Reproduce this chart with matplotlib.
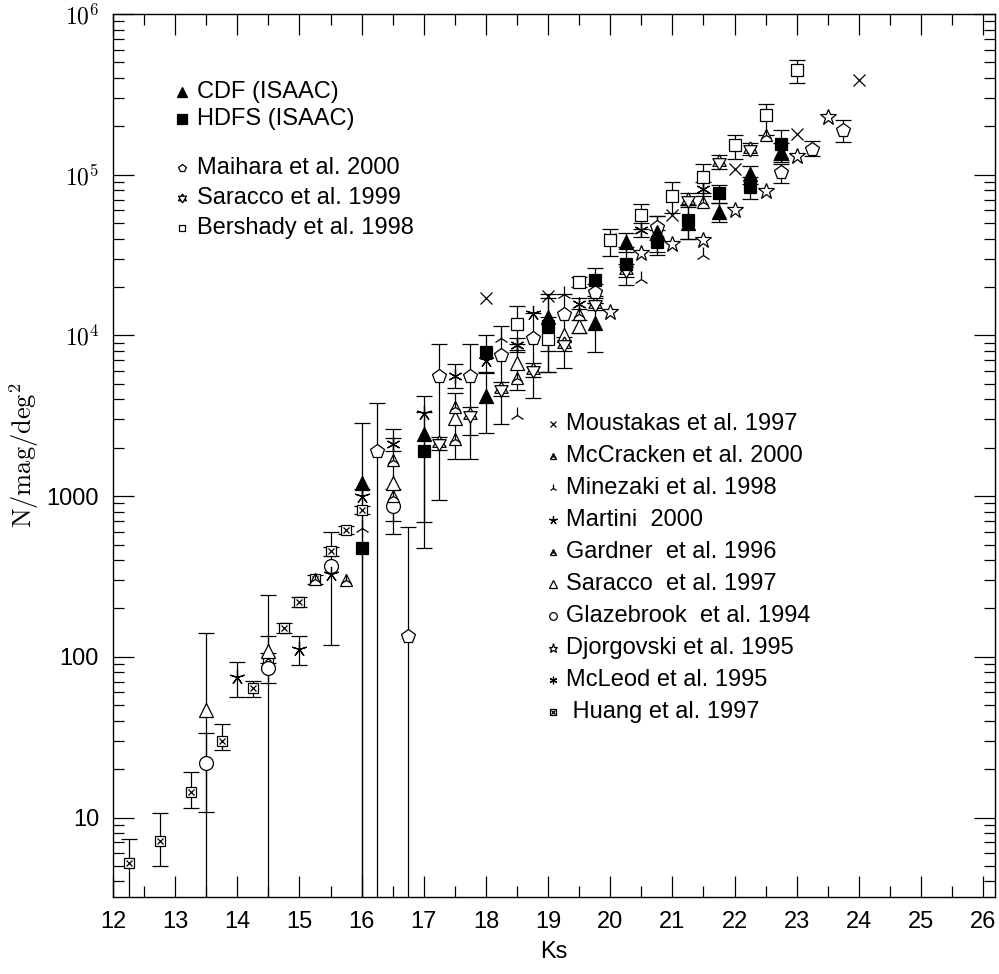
'''
Ks-band galaxy number counts: ISAAC CDF/HDFS counts with literature data
'''

## import packages
import numpy as np
import matplotlib.pyplot as plt
from matplotlib.ticker import FixedLocator, LogLocator, MultipleLocator, NullFormatter

plt.rcParams['font.family'] = ['Liberation Sans', 'DejaVu Sans']
plt.rcParams['mathtext.fontset'] = 'cm'

## data: Ks mag, N/mag/deg^2, error bar bounds (lo, hi); None = no bar
cdf_mag = [16.0, 17.0, 18.0, 19.0, 19.75, 20.25, 20.75, 21.25, 21.75, 22.25, 22.75]
cdf_n   = [1205, 2430, 4180, 13100, 11900, 38300, 44300, 50000, 58900, 101000, 139000]
cdf_lo  = [1, 690, 2480, 8000, 7840, 32900, 33000, 40000, 51000, 88000, 120000]
cdf_hi  = [2840, 4170, 5880, 18000, 15960, 43700, 55600, 65000, 67000, 114000, 158000]

hdfs_mag = [16.0, 17.0, 18.0, 19.0, 19.75, 20.25, 20.75, 21.25, 21.75, 22.25, 22.75]
hdfs_n   = [475, 1900, 7940, 11400, 22000, 28000, 38400, 52500, 77000, 84000, 156000]
hdfs_lo  = [1, 475, 5840, 5900, 17700, 20700, 31600, 40000, 67000, 71000, 123000]
hdfs_hi  = [1100, 3325, 10040, 17000, 26300, 35300, 45200, 65000, 86700, 97000, 189000]

maihara_mag = [16.25, 16.75, 17.25, 17.75, 18.25, 18.75, 19.25, 19.75, 20.75, 22.75, 23.25, 23.75]
maihara_n   = [1900, 135, 5560, 5600, 7600, 9600, 13500, 18500, 47500, 104000, 145000, 190000]
maihara_lo  = [1, 1, 945, 1700, 2800, 4060, 6300, 16000, 39000, 89000, 130000, 160000]
maihara_hi  = [3780, 641, 8800, 8900, 11400, 13700, 18000, 21000, 55600, 117000, 162000, 220000]

sar99_mag = [17.25, 17.75, 18.25, 18.75, 19.25, 19.75, 20.25, 21.25, 21.75, 22.25]
sar99_n   = [2130, 3190, 4620, 6070, 8900, 15600, 25600, 70000, 120000, 145000]
sar99_lo  = [1950, 2400, 4200, 5500, 8000, 14300, 23000, 63000, 108000, 132000]
sar99_hi  = [2330, 3600, 5100, 6700, 9800, 17000, 28000, 77000, 132000, 158000]

bersh_mag = [18.5, 19.0, 19.5, 20.0, 20.5, 21.0, 21.5, 22.0, 22.5, 23.0]
bersh_n   = [11700, 9440, 21600, 39500, 56000, 74000, 97300, 153000, 236000, 449000]
bersh_lo  = [8100, 5900, 20000, 31000, 46000, 58000, 77000, 126000, 177000, 372000]
bersh_hi  = [15300, 13000, 23200, 46200, 66000, 90500, 117000, 177000, 276000, 518000]

moust_mag = [18.0, 19.0, 20.0, 21.0, 22.0, 23.0, 24.0]
moust_n   = [17000, 17500, 40000, 56400, 109000, 180000, 390000]

mccr_mag = [16.5, 17.5, 19.5, 21.5, 22.5]
mccr_n   = [1675, 3570, 13500, 68000, 177000]

mine_mag = [16.0, 18.25, 18.5, 19.25, 20.5, 21.5]
mine_n   = [630, 9600, 3200, 18000, 22600, 31800]

mart_mag = [14.0, 15.0, 15.5, 16.0, 17.0, 18.0, 18.75]
mart_n   = [75, 112, 330, 1000, 3300, 7000, 13700]
mart_lo  = [56, 89, None, None, None, None, None]
mart_hi  = [93, 135, None, None, None, None, None]

gard_mag = [15.25, 15.75, 16.5, 17.5, 18.5]
gard_n   = [305, 300, 1000, 2260, 5400]

sar97_mag = [13.5, 14.5, 16.5, 17.5, 18.5, 19.25, 19.5]
sar97_n   = [47, 108, 1200, 3050, 6700, 10100, 11400]
sar97_lo  = [1, 1, 580, 1700, 4600, None, 10300]
sar97_hi  = [141, 243, 2600, 4400, 8800, None, 12500]

glaz_mag = [13.5, 14.5, 15.5, 16.5]
glaz_n   = [22, 85.5, 367, 870]
glaz_lo  = [10.9, 69, 119, 700]
glaz_hi  = [33.7, 135, 597, 1100]

djor_mag = [20.0, 20.5, 21.0, 21.5, 22.0, 22.5, 23.0, 23.5]
djor_n   = [13900, 32400, 36800, 39500, 60000, 79500, 131000, 229000]

mcleod_mag = [16.5, 17.5, 18.5, 19.5, 20.5, 21.5]
mcleod_n   = [2100, 5600, 8700, 15800, 45500, 82000]
mcleod_lo  = [1900, 4700, 7900, 14500, 41000, 74000]
mcleod_hi  = [2300, 6600, 9600, 17200, 50000, 90000]

huang_mag = [12.25, 12.75, 13.25, 13.75, 14.25, 14.5, 14.75, 15.0, 15.25, 15.5, 15.75, 16.0]
huang_n   = [5.2, 7.1, 14.5, 30, 64, 99, 151, 220, 305, 455, 615, 818]
huang_lo  = [1, 4.97, 11.5, 26.4, 56, 92, 140, 205, 285, 425, 580, 770]
huang_hi  = [7.4, 10.6, 19.3, 38, 71, 106, 163, 235, 325, 485, 650, 870]

## marker styles: list of overlaid (marker, filled, size)
STAR5 = (5, 2, 0)
STAR6 = (6, 2, 0)
# triangles centred on their centroid, so two of them make a hexagram
TRI_UP = [(0, 1), (-0.866, -0.5), (0.866, -0.5), (0, 1)]
TRI_DN = [(0, -1), (-0.866, 0.5), (0.866, 0.5), (0, -1)]
sty_cdf     = [('^', True, 10)]
sty_hdfs    = [('s', True, 9)]
sty_maihara = [('p', False, 10)]
sty_sar99   = [(TRI_UP, False, 11), (TRI_DN, False, 11)]
sty_bersh   = [('s', False, 8)]
sty_moust   = [('x', False, 8)]
sty_mccr    = [('^', False, 9), ('2', False, 9)]
sty_mine    = [('2', False, 11)]
sty_mart    = [(STAR5, False, 11)]
sty_gard    = [('^', False, 9), ('2', False, 9)]
sty_sar97   = [('^', False, 10)]
sty_glaz    = [('o', False, 10)]
sty_djor    = [('*', False, 12)]
sty_mcleod  = [(STAR6, False, 10)]
sty_huang   = [('s', False, 7), ('x', False, 5)]

def draw_markers(ax, x, y, style, scale=1.0, **kw):
    for mk, filled, ms in style:
        ax.plot(x, y, ls='none', marker=mk, ms=ms*scale, mew=0.9,
                mfc='k' if filled else 'white', mec='k', color='k', zorder=3, **kw)

def draw_series(ax, mag, n, style, lo=None, hi=None):
    if lo is not None:
        for m, v, l, h in zip(mag, n, lo, hi):
            if l is None:
                continue
            ax.errorbar([m], [v], yerr=[[v - l], [h - v]], fmt='none',
                        ecolor='k', elinewidth=0.9, capsize=5.5, capthick=0.9, zorder=2)
    draw_markers(ax, mag, n, style)

## plot
fig = plt.figure(figsize=(9.99, 9.74), dpi=100)
ax = fig.add_axes([0.1131, 0.079, 0.8829, 0.9066])

draw_series(ax, huang_mag, huang_n, sty_huang, huang_lo, huang_hi)
draw_series(ax, glaz_mag, glaz_n, sty_glaz, glaz_lo, glaz_hi)
draw_series(ax, sar97_mag, sar97_n, sty_sar97, sar97_lo, sar97_hi)
draw_series(ax, gard_mag, gard_n, sty_gard)
draw_series(ax, mart_mag, mart_n, sty_mart, mart_lo, mart_hi)
draw_series(ax, mine_mag, mine_n, sty_mine)
draw_series(ax, mccr_mag, mccr_n, sty_mccr)
draw_series(ax, mcleod_mag, mcleod_n, sty_mcleod, mcleod_lo, mcleod_hi)
draw_series(ax, djor_mag, djor_n, sty_djor)
draw_series(ax, moust_mag, moust_n, sty_moust)
draw_series(ax, bersh_mag, bersh_n, sty_bersh, bersh_lo, bersh_hi)
draw_series(ax, sar99_mag, sar99_n, sty_sar99, sar99_lo, sar99_hi)
draw_series(ax, maihara_mag, maihara_n, sty_maihara, maihara_lo, maihara_hi)
draw_series(ax, hdfs_mag, hdfs_n, sty_hdfs, hdfs_lo, hdfs_hi)
draw_series(ax, cdf_mag, cdf_n, sty_cdf, cdf_lo, cdf_hi)

## axes
ax.set_yscale('log')
ax.set_xlim(12, 26.19)
ax.set_ylim(3.2, 1e6)
ax.xaxis.set_major_locator(MultipleLocator(1))
ax.xaxis.set_minor_locator(MultipleLocator(0.5))
ax.yaxis.set_major_locator(FixedLocator([10, 100, 1000, 1e4, 1e5, 1e6]))
ax.set_yticklabels(['10', '100', '1000', r'$10^4$', r'$10^5$', r'$10^6$'])
ax.yaxis.set_minor_locator(LogLocator(base=10, subs=np.arange(2, 10)))
ax.yaxis.set_minor_formatter(NullFormatter())
ax.tick_params(which='both', direction='in', top=True, right=True, width=0.9)
ax.tick_params(which='major', length=15, labelsize=17, pad=10)
ax.tick_params(which='minor', length=8)
for s in ax.spines.values():
    s.set_linewidth(1.0)
ax.set_xlabel('Ks', fontsize=17, labelpad=6)
ax.set_ylabel(r'$\mathrm{N/mag/deg^2}$', fontsize=19, labelpad=4)

## key, upper left
tr = ax.transAxes
key1 = [(sty_cdf, 0.75, 'CDF (ISAAC)', 0.912),
        (sty_hdfs, 0.8, 'HDFS (ISAAC)', 0.881),
        (sty_maihara, 0.6, 'Maihara et al. 2000', 0.826),
        (sty_sar99, 0.6, 'Saracco et al. 1999', 0.792),
        (sty_bersh, 0.6, 'Bershady et al. 1998', 0.758)]
for sty, sc, lab, yy in key1:
    draw_markers(ax, [0.078], [yy], sty, scale=sc, transform=tr, clip_on=False)
    ax.text(0.095, yy, lab, transform=tr, fontsize=17, va='center', ha='left')

## key, middle right
key2 = [(sty_moust, 'Moustakas et al. 1997'),
        (sty_mccr, 'McCracken et al. 2000'),
        (sty_mine, 'Minezaki et al. 1998'),
        (sty_mart, 'Martini  2000'),
        (sty_gard, 'Gardner  et al. 1996'),
        (sty_sar97, 'Saracco  et al. 1997'),
        (sty_glaz, 'Glazebrook  et al. 1994'),
        (sty_djor, 'Djorgovski et al. 1995'),
        (sty_mcleod, 'McLeod et al. 1995'),
        (sty_huang, ' Huang et al. 1997')]
for i, (sty, lab) in enumerate(key2):
    yy = 0.5357 - i*0.03624
    draw_markers(ax, [0.499], [yy], sty, scale=0.55, transform=tr, clip_on=False)
    ax.text(0.514, yy, lab, transform=tr, fontsize=17, va='center', ha='left')

plt.savefig('out.png', dpi=100)
